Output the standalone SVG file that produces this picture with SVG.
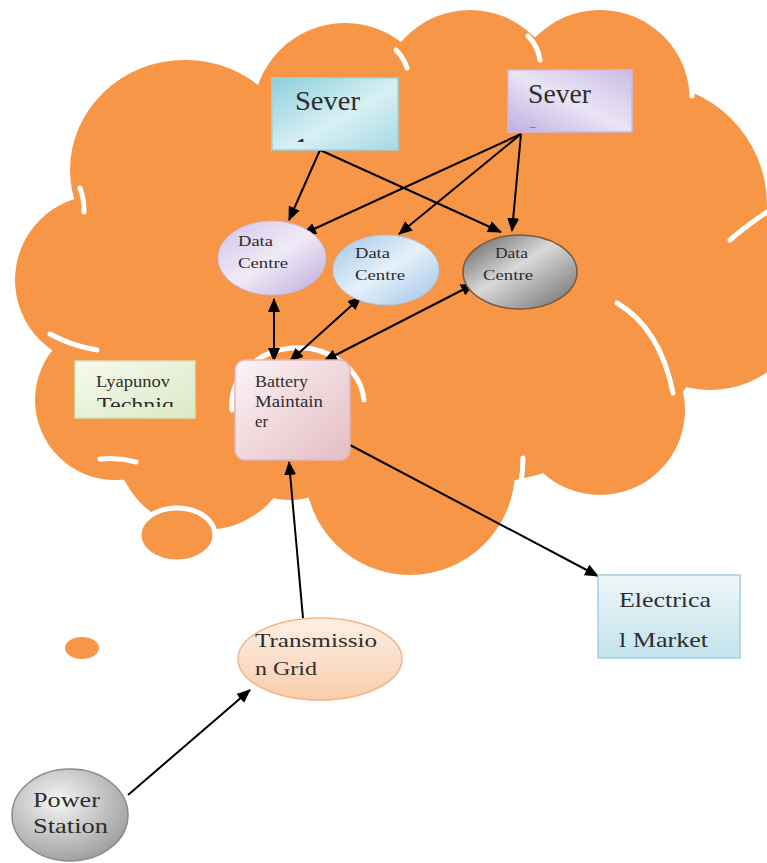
<svg xmlns="http://www.w3.org/2000/svg" width="767" height="863" viewBox="0 0 767 863">
<style>
.t{font-family:"Liberation Serif","DejaVu Serif","Times New Roman",serif;fill:#2e2e2e}
.cl{fill:#f79646}
.clo{fill:#f79646;stroke:#ffffff;stroke-width:7}
.hl{fill:none;stroke:#ffffff;stroke-width:5;stroke-linecap:round}
.c{fill:none;stroke:#000;stroke-width:2}
</style>
<defs>
<marker id="ah" markerUnits="userSpaceOnUse" markerWidth="14" markerHeight="12" refX="13" refY="6" orient="auto-start-reverse" viewBox="0 0 14 12"><path d="M0,0 L14,6 L0,12 z" fill="#000"/></marker>
<linearGradient id="gS1" x1="0" y1="0" x2="1" y2="1"><stop offset="0" stop-color="#8ccfdb"/><stop offset="0.55" stop-color="#d8f0f4"/><stop offset="1" stop-color="#a4d9e3"/></linearGradient>
<linearGradient id="gS2" x1="0" y1="1" x2="1" y2="0"><stop offset="0" stop-color="#bfaee2"/><stop offset="0.5" stop-color="#ebe4f5"/><stop offset="1" stop-color="#c9bce6"/></linearGradient>
<linearGradient id="gD1" x1="0" y1="0" x2="1" y2="1"><stop offset="0" stop-color="#cfc3e6"/><stop offset="0.5" stop-color="#f0ebf7"/><stop offset="1" stop-color="#bba9dc"/></linearGradient>
<linearGradient id="gD2" x1="0" y1="0" x2="1" y2="1"><stop offset="0" stop-color="#a3c6e8"/><stop offset="0.5" stop-color="#e6f0fa"/><stop offset="1" stop-color="#9fc2e6"/></linearGradient>
<linearGradient id="gD3" x1="0" y1="0" x2="1" y2="1"><stop offset="0" stop-color="#5a5a5a"/><stop offset="0.45" stop-color="#d9d9d9"/><stop offset="1" stop-color="#6a6a6a"/></linearGradient>
<linearGradient id="gL" x1="0" y1="0" x2="1" y2="1"><stop offset="0" stop-color="#f7faef"/><stop offset="1" stop-color="#dbe8c4"/></linearGradient>
<linearGradient id="gB" x1="0" y1="0" x2="1" y2="1"><stop offset="0" stop-color="#fcf4f6"/><stop offset="1" stop-color="#e4bcc3"/></linearGradient>
<linearGradient id="gT" x1="0" y1="0" x2="0" y2="1"><stop offset="0" stop-color="#fdf0e6"/><stop offset="1" stop-color="#f9cdab"/></linearGradient>
<linearGradient id="gE" x1="0" y1="0" x2="0" y2="1"><stop offset="0" stop-color="#eef7fa"/><stop offset="1" stop-color="#c3e3ed"/></linearGradient>
<radialGradient id="gP" cx="0.4" cy="0.35" r="0.7"><stop offset="0" stop-color="#f6f6f6"/><stop offset="1" stop-color="#9c9c9c"/></radialGradient>
<clipPath id="cS1"><rect x="272" y="78" width="126" height="64"/></clipPath>
<clipPath id="cS2"><rect x="508" y="70" width="124" height="57.5"/></clipPath>
<clipPath id="cL"><rect x="75" y="361" width="120" height="46"/></clipPath>
</defs>
<rect width="767" height="863" fill="#ffffff"/>

<g id="cloud">
<g>
<ellipse class="clo" cx="100" cy="280" rx="85" ry="85"/>
<circle class="clo" cx="115" cy="400" r="80"/>
<circle class="clo" cx="205" cy="440" r="90"/>
<ellipse class="clo" cx="185" cy="170" rx="115" ry="110"/>
<circle class="clo" cx="345" cy="115" r="92"/>
<circle class="clo" cx="470" cy="100" r="90"/>
<circle class="clo" cx="600" cy="100" r="90"/>
<circle class="clo" cx="645" cy="205" r="122"/>
<circle class="clo" cx="710" cy="290" r="100"/>
<circle class="clo" cx="600" cy="410" r="85"/>
<circle class="clo" cx="410" cy="470" r="105"/>
</g>
<g>
<ellipse class="cl" cx="100" cy="280" rx="85" ry="85"/>
<circle class="cl" cx="115" cy="400" r="80"/>
<circle class="cl" cx="205" cy="440" r="90"/>
<ellipse class="cl" cx="185" cy="170" rx="115" ry="110"/>
<circle class="cl" cx="345" cy="115" r="92"/>
<circle class="cl" cx="470" cy="100" r="90"/>
<circle class="cl" cx="600" cy="100" r="90"/>
<circle class="cl" cx="645" cy="205" r="122"/>
<circle class="cl" cx="710" cy="290" r="100"/>
<circle class="cl" cx="600" cy="410" r="85"/>
<circle class="cl" cx="410" cy="470" r="105"/>
<ellipse class="cl" cx="420" cy="300" rx="300" ry="190"/>
<circle class="cl" cx="290" cy="430" r="70"/>
</g>
<path class="hl" d="M80,188 Q84,198 84,212"/>
<path class="hl" d="M396,50 Q404,58 407,68"/>
<path class="hl" d="M528,36 Q538,46 540,60"/>
<path class="hl" d="M688,72 Q692,84 692,96"/>
<path class="hl" d="M767,212 Q746,226 730,240"/>
<path class="hl" d="M617,303 Q660,328 673,393"/>
<path class="hl" d="M50,334 Q72,346 97,350"/>
<path class="hl" d="M100,459 Q118,457 136,462"/>
<path class="hl" d="M523,458 Q523,470 521,482"/>
<path class="hl" d="M232,410 A66,57 0 0 1 364,400"/>
<ellipse cx="177" cy="535" rx="38" ry="27" fill="#f79646" stroke="#ffffff" stroke-width="5"/>
<ellipse cx="82" cy="648" rx="17" ry="11" fill="#f79646"/>
</g>

<g id="connectors">
<line class="c" x1="320" y1="150" x2="289" y2="220" marker-end="url(#ah)"/>
<line class="c" x1="320" y1="150" x2="501" y2="232" marker-end="url(#ah)"/>
<line class="c" x1="521" y1="134" x2="303" y2="234" marker-end="url(#ah)"/>
<line class="c" x1="521" y1="134" x2="399" y2="234" marker-end="url(#ah)"/>
<line class="c" x1="521" y1="134" x2="512" y2="231" marker-end="url(#ah)"/>
<line class="c" x1="274" y1="299" x2="274" y2="361" marker-start="url(#ah)" marker-end="url(#ah)"/>
<line class="c" x1="361" y1="297" x2="290" y2="361" marker-start="url(#ah)" marker-end="url(#ah)"/>
<line class="c" x1="474" y1="284" x2="324" y2="361" marker-start="url(#ah)" marker-end="url(#ah)"/>
<line class="c" x1="350" y1="445" x2="598" y2="576" marker-end="url(#ah)"/>
<line class="c" x1="303" y1="618" x2="289" y2="462" marker-end="url(#ah)"/>
<line class="c" x1="128" y1="795" x2="250" y2="690" marker-end="url(#ah)"/>
</g>

<g id="sever1">
<rect x="272" y="78" width="126" height="72" fill="url(#gS1)" stroke="#9fd3dd" stroke-width="1.5"/>
<text class="t" font-family="Liberation Serif, DejaVu Serif, serif" x="295" y="110" font-size="27" textLength="65" lengthAdjust="spacingAndGlyphs">Sever</text>
<text class="t" x="296" y="153" font-size="22" font-weight="bold" clip-path="url(#cS1)">1</text>
</g>
<g id="sever2">
<rect x="508" y="70" width="124" height="62" fill="url(#gS2)" stroke="#c7b8e8" stroke-width="1.5"/>
<text class="t" x="528" y="103" font-size="27" textLength="63" lengthAdjust="spacingAndGlyphs">Sever</text>
<text class="t" x="528" y="141" font-size="22" clip-path="url(#cS2)">2</text>
</g>
<g id="dc1">
<ellipse cx="272" cy="258" rx="54" ry="37" fill="url(#gD1)" stroke="#c9bde3" stroke-width="1"/>
<text class="t" x="238" y="246" font-size="15" textLength="35" lengthAdjust="spacingAndGlyphs">Data</text>
<text class="t" x="238" y="268" font-size="15" textLength="50" lengthAdjust="spacingAndGlyphs">Centre</text>
</g>
<g id="dc2">
<ellipse cx="386" cy="270" rx="53" ry="35" fill="url(#gD2)" stroke="#a8cbe9" stroke-width="1"/>
<text class="t" x="355" y="258" font-size="15" textLength="35" lengthAdjust="spacingAndGlyphs">Data</text>
<text class="t" x="355" y="280" font-size="15" textLength="50" lengthAdjust="spacingAndGlyphs">Centre</text>
</g>
<g id="dc3">
<ellipse cx="520" cy="272" rx="57" ry="37" fill="url(#gD3)" stroke="#7a5a40" stroke-width="1.5"/>
<text class="t" x="495" y="258" font-size="15" textLength="33" lengthAdjust="spacingAndGlyphs">Data</text>
<text class="t" x="483" y="280" font-size="15" textLength="50" lengthAdjust="spacingAndGlyphs">Centre</text>
</g>
<g id="lyapunov">
<rect x="75" y="361" width="120" height="57" fill="url(#gL)" stroke="#d2e2b4" stroke-width="1.5"/>
<text class="t" x="96" y="387" font-size="16" textLength="74" lengthAdjust="spacingAndGlyphs">Lyapunov</text>
<text class="t" x="97" y="412" font-size="20" textLength="77" lengthAdjust="spacingAndGlyphs" clip-path="url(#cL)">Techniq</text>
</g>
<g id="battery">
<rect x="235" y="360" width="115" height="100" rx="10" fill="url(#gB)" stroke="#e3b7bf" stroke-width="1.5"/>
<text class="t" x="255" y="387" font-size="16" textLength="53" lengthAdjust="spacingAndGlyphs">Battery</text>
<text class="t" x="255" y="407" font-size="16" textLength="68" lengthAdjust="spacingAndGlyphs">Maintain</text>
<text class="t" x="255" y="427" font-size="16" textLength="13" lengthAdjust="spacingAndGlyphs">er</text>
</g>
<g id="transmission">
<ellipse cx="320" cy="659" rx="82" ry="41" fill="url(#gT)" stroke="#f2b68e" stroke-width="1.5"/>
<text class="t" x="255" y="647" font-size="19" textLength="122" lengthAdjust="spacingAndGlyphs">Transmissio</text>
<text class="t" x="255" y="675" font-size="19" textLength="62" lengthAdjust="spacingAndGlyphs">n Grid</text>
</g>
<g id="electrical">
<rect x="598" y="575" width="142" height="83" fill="url(#gE)" stroke="#a3d1de" stroke-width="1.5"/>
<text class="t" x="619" y="607" font-size="22" textLength="92" lengthAdjust="spacingAndGlyphs">Electrica</text>
<text class="t" x="619" y="647" font-size="22" textLength="89" lengthAdjust="spacingAndGlyphs">l Market</text>
</g>
<g id="power">
<ellipse cx="70" cy="815" rx="58" ry="46" fill="url(#gP)" stroke="#8a8a8a" stroke-width="1.5"/>
<text class="t" x="33" y="807" font-size="21" textLength="67" lengthAdjust="spacingAndGlyphs">Power</text>
<text class="t" x="33" y="833" font-size="21" textLength="75" lengthAdjust="spacingAndGlyphs">Station</text>
</g>
</svg>
